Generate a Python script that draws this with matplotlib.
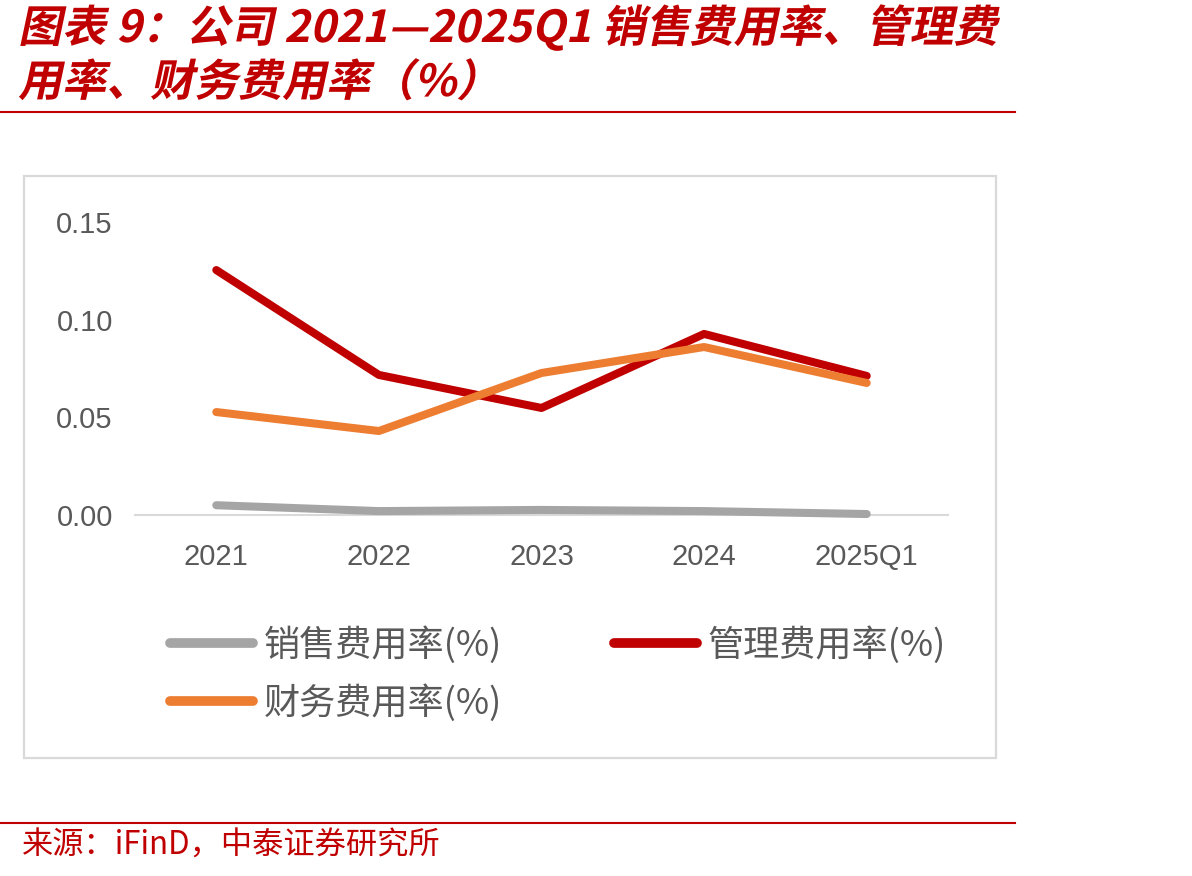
import matplotlib.pyplot as plt
from matplotlib.patches import Rectangle, PathPatch
from matplotlib.lines import Line2D
from matplotlib.textpath import TextPath
from matplotlib.font_manager import FontProperties
from matplotlib.transforms import Affine2D, IdentityTransform

plt.rcParams['font.family'] = ['Noto Sans CJK SC', 'DejaVu Sans']

years = ['2021', '2022', '2023', '2024', '2025Q1']
sales_rate = [0.0050, 0.0020, 0.0026, 0.0020, 0.0005]
admin_rate = [0.1254, 0.0717, 0.0548, 0.0927, 0.0712]
finance_rate = [0.0527, 0.0430, 0.0727, 0.0860, 0.0676]
yticks = [0.00, 0.05, 0.10, 0.15]
title_lines = ['图表 9：公司 2021—2025Q1 销售费用率、管理费', '用率、财务费用率（%）']

W, H = 1192, 876
fig = plt.figure(figsize=(W / 100, H / 100), dpi=100)


def slanted_text(s, x, y_base, size_px, color):
    # 斜体标题：用文字路径再做倾斜
    fp = FontProperties(family='Noto Sans CJK SC', weight='bold')
    tp = TextPath((0, 0), s, size=size_px, prop=fp)
    tr = Affine2D().skew_deg(12, 0).translate(x, H - y_base) + IdentityTransform()
    fig.add_artist(PathPatch(tp, transform=tr, facecolor=color, lw=0))


# 外框
fig.add_artist(Rectangle((24 / W, 1 - 758 / H), (996 - 24) / W, (758 - 176) / H,
                         transform=fig.transFigure, fill=False,
                         edgecolor='#D9D9D9', lw=1.6))

ax = fig.add_axes([135 / W, 1 - 515 / H, (948 - 135) / W, (515 - 222) / H])
x = range(len(years))
l1, = ax.plot(x, sales_rate, color='#A5A5A5', lw=5.8, solid_capstyle='round', clip_on=False, zorder=3)
l2, = ax.plot(x, admin_rate, color='#C00000', lw=5.8, solid_capstyle='round', clip_on=False, zorder=3)
l3, = ax.plot(x, finance_rate, color='#ED7D31', lw=5.8, solid_capstyle='round', clip_on=False, zorder=3)

ax.set_xlim(-0.5, len(years) - 0.5)
ax.set_ylim(0, 0.15)
ax.set_yticks(yticks)
ax.set_yticklabels(['%.2f' % v for v in yticks])
ax.set_xticks(list(x))
ax.set_xticklabels(years)
for s in ['top', 'right', 'left']:
    ax.spines[s].set_visible(False)
ax.spines['bottom'].set_color('#D9D9D9')
ax.spines['bottom'].set_linewidth(1.5)
ax.tick_params(axis='both', length=0, labelsize=21, labelcolor='#595959')
ax.tick_params(axis='y', pad=16)
ax.tick_params(axis='x', pad=20)
for t in ax.get_xticklabels() + ax.get_yticklabels():
    t.set_family('Liberation Sans')

# 图例
h = [Line2D([], [], color=l.get_color(), lw=7, solid_capstyle='round') for l in (l1, l3, l2)]
labels = ['销售费用率(%)', '财务费用率(%)', '管理费用率(%)']
fig.legend(h, labels, ncol=2, loc='upper left', bbox_to_anchor=(137 / W, 1 - 594 / H),
           frameon=False, fontsize=26, labelcolor='#595959', handlelength=2.3,
           handletextpad=0.3, columnspacing=3.1, labelspacing=0.55)

# 标题与来源
slanted_text(title_lines[0], 18, 42, 44, '#C00000')
slanted_text(title_lines[1], 18, 96, 44, '#C00000')
fig.add_artist(Line2D([0, 1015 / W], [1 - 112 / H] * 2, color='#C00000', lw=1.5,
                      transform=fig.transFigure))
fig.add_artist(Line2D([0, 1015 / W], [1 - 823 / H] * 2, color='#C00000', lw=1.5,
                      transform=fig.transFigure))
fig.text(22 / W, 1 - 846 / H, '来源：iFinD，中泰证券研究所',
         color='#C00000', fontsize=22.5, va='center', ha='left')

fig.savefig('out.png', dpi=100)
